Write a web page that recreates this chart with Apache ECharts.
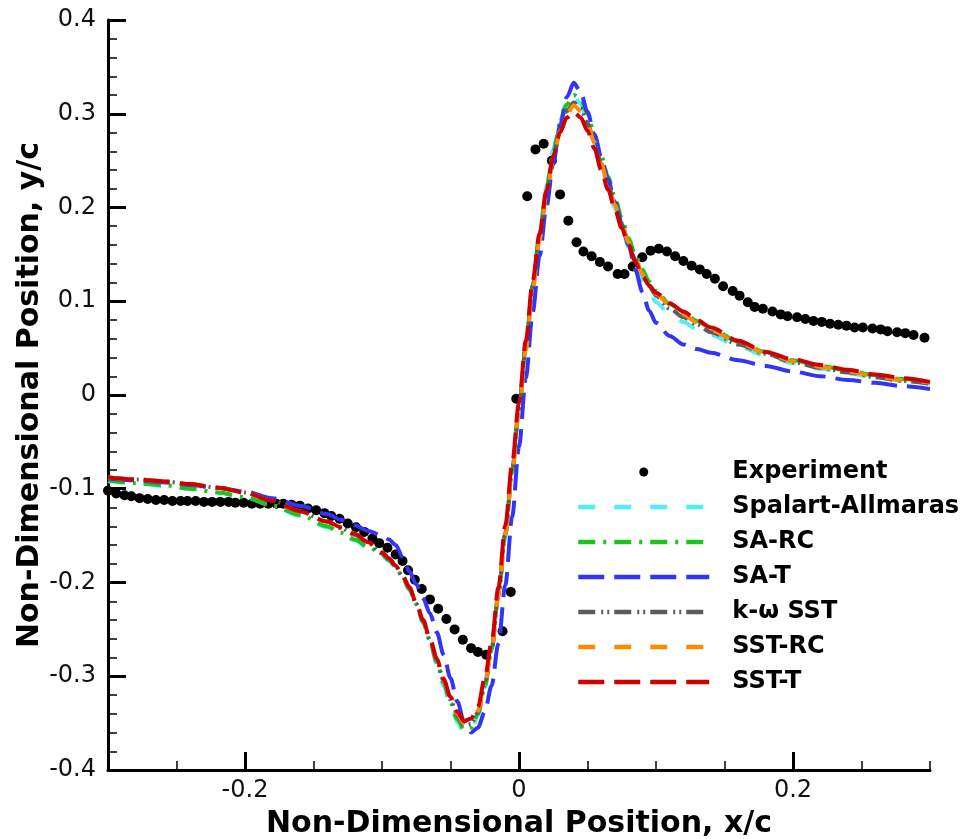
<!DOCTYPE html>
<html>
<head>
<meta charset="utf-8">
<script src="https://cdn.jsdelivr.net/npm/echarts@6/dist/echarts.min.js"></script>
<style>
  html, body { margin: 0; padding: 0; background: #fff; }
  #chart { width: 964px; height: 839px; }
</style>
</head>
<body>
<div id="chart"></div>
<script>
// ---------- data ----------
const seriesNames = ['Experiment', 'Spalart-Allmaras', 'SA-RC', 'SA-T', 'k-ω SST', 'SST-RC', 'SST-T'];

const expX = [-0.300,-0.294,-0.288,-0.283,-0.277,-0.271,-0.265,-0.259,-0.253,-0.247,-0.242,-0.236,-0.230,-0.224,-0.218,-0.212,-0.207,-0.201,-0.195,-0.189,-0.183,-0.177,-0.172,-0.166,-0.160,-0.154,-0.148,-0.142,-0.137,-0.131,-0.125,-0.119,-0.113,-0.107,-0.102,-0.096,-0.090,-0.085,-0.081,-0.076,-0.071,-0.065,-0.059,-0.053,-0.047,-0.041,-0.035,-0.030,-0.024,-0.012,-0.006,-0.002,0.006,0.012,0.018,0.024,0.030,0.036,0.042,0.047,0.053,0.059,0.065,0.072,0.077,0.083,0.090,0.096,0.102,0.108,0.114,0.120,0.126,0.132,0.137,0.143,0.149,0.156,0.161,0.167,0.172,0.178,0.185,0.191,0.196,0.203,0.209,0.215,0.221,0.227,0.233,0.239,0.245,0.251,0.258,0.264,0.269,0.276,0.282,0.288,0.296];
const expY = [-0.102,-0.105,-0.107,-0.108,-0.110,-0.111,-0.112,-0.112,-0.113,-0.113,-0.113,-0.113,-0.114,-0.114,-0.114,-0.114,-0.115,-0.115,-0.116,-0.116,-0.116,-0.116,-0.116,-0.117,-0.118,-0.121,-0.123,-0.126,-0.129,-0.132,-0.137,-0.141,-0.146,-0.153,-0.158,-0.163,-0.170,-0.177,-0.187,-0.197,-0.207,-0.218,-0.228,-0.239,-0.250,-0.261,-0.270,-0.274,-0.277,-0.252,-0.210,-0.004,0.212,0.262,0.268,0.250,0.214,0.186,0.163,0.153,0.148,0.142,0.137,0.129,0.129,0.137,0.147,0.154,0.156,0.153,0.148,0.143,0.138,0.134,0.129,0.124,0.116,0.111,0.106,0.099,0.094,0.092,0.089,0.086,0.084,0.083,0.081,0.079,0.078,0.076,0.075,0.074,0.072,0.072,0.071,0.070,0.068,0.067,0.066,0.064,0.061];

const xGrid = [-0.3,-0.28,-0.26,-0.24,-0.22,-0.2,-0.18,-0.16,-0.14,-0.13,-0.12,-0.11,-0.1,-0.095,-0.09,-0.085,-0.08,-0.075,-0.07,-0.065,-0.06,-0.055,-0.05,-0.045,-0.04,-0.035,-0.03,-0.025,-0.02,-0.015,-0.01,-0.005,0,0.005,0.01,0.015,0.02,0.025,0.03,0.035,0.04,0.045,0.05,0.055,0.06,0.065,0.07,0.075,0.08,0.085,0.09,0.095,0.1,0.11,0.12,0.13,0.14,0.16,0.18,0.2,0.22,0.24,0.26,0.28,0.3];

const ySA = [-0.092,-0.094,-0.097,-0.100,-0.104,-0.109,-0.118,-0.129,-0.141,-0.148,-0.155,-0.163,-0.171,-0.177,-0.184,-0.195,-0.208,-0.224,-0.243,-0.264,-0.287,-0.310,-0.331,-0.349,-0.360,-0.358,-0.342,-0.312,-0.272,-0.214,-0.150,-0.083,-0.016,0.052,0.117,0.172,0.222,0.262,0.293,0.314,0.320,0.310,0.292,0.270,0.246,0.222,0.199,0.178,0.158,0.139,0.122,0.109,0.099,0.086,0.078,0.070,0.064,0.052,0.042,0.034,0.028,0.023,0.019,0.015,0.012];
const ySARC = [-0.091,-0.094,-0.096,-0.100,-0.104,-0.109,-0.118,-0.128,-0.140,-0.147,-0.154,-0.162,-0.170,-0.176,-0.183,-0.194,-0.207,-0.223,-0.242,-0.262,-0.285,-0.307,-0.328,-0.346,-0.357,-0.355,-0.340,-0.311,-0.271,-0.213,-0.149,-0.082,-0.015,0.053,0.117,0.171,0.220,0.260,0.290,0.310,0.320,0.316,0.300,0.278,0.255,0.233,0.211,0.189,0.167,0.149,0.134,0.121,0.111,0.097,0.088,0.079,0.071,0.057,0.046,0.037,0.031,0.026,0.021,0.017,0.014];
const ySAT = [-0.089,-0.091,-0.093,-0.096,-0.099,-0.103,-0.110,-0.118,-0.127,-0.133,-0.139,-0.145,-0.150,-0.154,-0.160,-0.173,-0.188,-0.202,-0.217,-0.233,-0.253,-0.277,-0.302,-0.327,-0.349,-0.360,-0.355,-0.338,-0.310,-0.265,-0.203,-0.130,-0.055,0.018,0.088,0.148,0.200,0.247,0.288,0.318,0.333,0.323,0.302,0.278,0.254,0.230,0.206,0.183,0.160,0.133,0.110,0.090,0.077,0.063,0.054,0.049,0.045,0.037,0.031,0.025,0.020,0.016,0.013,0.0095,0.0063];
const ySST = [-0.088,-0.090,-0.092,-0.095,-0.099,-0.104,-0.113,-0.124,-0.135,-0.142,-0.149,-0.158,-0.169,-0.175,-0.183,-0.194,-0.206,-0.223,-0.241,-0.261,-0.283,-0.305,-0.325,-0.342,-0.353,-0.351,-0.339,-0.309,-0.272,-0.213,-0.147,-0.080,-0.014,0.052,0.116,0.168,0.215,0.254,0.283,0.303,0.312,0.306,0.290,0.270,0.247,0.225,0.203,0.182,0.162,0.144,0.128,0.116,0.106,0.092,0.083,0.075,0.067,0.054,0.044,0.035,0.029,0.024,0.019,0.015,0.012];
const ySSTRC = [-0.088,-0.090,-0.092,-0.095,-0.099,-0.104,-0.113,-0.124,-0.135,-0.141,-0.148,-0.157,-0.168,-0.174,-0.182,-0.193,-0.205,-0.222,-0.240,-0.260,-0.282,-0.304,-0.324,-0.340,-0.351,-0.349,-0.337,-0.308,-0.272,-0.214,-0.149,-0.083,-0.018,0.048,0.112,0.165,0.213,0.252,0.281,0.300,0.309,0.303,0.289,0.270,0.247,0.225,0.203,0.182,0.163,0.145,0.129,0.117,0.108,0.096,0.086,0.077,0.069,0.056,0.045,0.036,0.030,0.025,0.020,0.016,0.013];
const ySSTT = [-0.088,-0.090,-0.092,-0.095,-0.099,-0.104,-0.113,-0.124,-0.135,-0.141,-0.148,-0.157,-0.168,-0.174,-0.182,-0.193,-0.205,-0.222,-0.240,-0.260,-0.281,-0.303,-0.322,-0.338,-0.348,-0.345,-0.333,-0.302,-0.264,-0.205,-0.139,-0.073,-0.008,0.058,0.122,0.172,0.218,0.255,0.280,0.296,0.302,0.296,0.282,0.263,0.240,0.219,0.198,0.178,0.160,0.142,0.127,0.117,0.109,0.098,0.089,0.080,0.072,0.058,0.046,0.038,0.032,0.027,0.022,0.018,0.014];

const yTickValues = [-0.4,-0.3,-0.2,-0.1,0,0.1,0.2,0.3,0.4];
const yTickLabels = ['-0.4','-0.3','-0.2','-0.1','0','0.1','0.2','0.3','0.4'];
const xMajorTicks = [-0.2, 0, 0.2];
const xTickLabels = ['-0.2', '0', '0.2'];

// ---------- styles ----------
const FONT = 'DejaVu Sans';
const colors = ['#000000', '#50eefc', '#1ec31e', '#3434f4', '#5c5c5c', '#ff8a00', '#d00000'];
const dashes = [null, [17,19], [17,8,3,8], [26,10], [17,6,2,4,2,5], [17,19], [26,10]];
const curveY = [null, ySA, ySARC, ySAT, ySST, ySSTRC, ySSTT];

const series = [{
  name: seriesNames[0],
  type: 'scatter',
  symbol: 'circle',
  symbolSize: 10,
  itemStyle: { color: colors[0], opacity: 1 },
  data: expX.map((x, i) => [x, expY[i]]),
  z: 2
}];
for (let k = 1; k < seriesNames.length; k++) {
  series.push({
    name: seriesNames[k],
    type: 'line',
    symbol: 'none',
    smooth: 0.3,
    smoothMonotone: 'x',
    color: colors[k],
    itemStyle: { color: colors[k] },
    lineStyle: { color: colors[k], width: 4, type: dashes[k], cap: 'butt' },
    data: xGrid.map((x, i) => [x, curveY[k][i]]),
    z: 3
  });
}

const chart = echarts.init(document.getElementById('chart'), null, { renderer: 'canvas' });
chart.setOption({
  animation: false,
  backgroundColor: '#ffffff',
  grid: { left: 108, right: 34, top: 20, bottom: 69, containLabel: false, outerBoundsMode: 'none' },
  xAxis: [{
    type: 'value', min: -0.3, max: 0.3, interval: 0.05, position: 'bottom',
    axisLine: { show: true, onZero: false, lineStyle: { color: '#000', width: 3 } },
    axisTick: { show: true, inside: true, length: 9, lineStyle: { color: '#000', width: 1.5 } },
    axisLabel: { show: false },
    splitLine: { show: false },
    name: 'Non-Dimensional Position, x/c', nameLocation: 'middle', nameGap: 39,
    nameTextStyle: { fontFamily: FONT, fontWeight: 'bold', fontSize: 30, color: '#000' }
  }, {
    type: 'value', min: -0.3, max: 0.3, position: 'bottom', offset: 0,
    axisLine: { show: false, onZero: false },
    axisTick: { show: true, inside: true, length: 18, customValues: xMajorTicks, lineStyle: { color: '#000', width: 3 } },
    axisLabel: {
      show: true, customValues: xMajorTicks, margin: 9,
      fontFamily: FONT, fontSize: 24, color: '#111',
      formatter: (v) => xTickLabels[xMajorTicks.findIndex(t => Math.abs(t - v) < 1e-9)]
    },
    splitLine: { show: false }
  }],
  yAxis: {
    type: 'value', min: -0.4, max: 0.4, interval: 0.1,
    axisLine: { show: true, onZero: false, lineStyle: { color: '#000', width: 3 } },
    axisTick: { show: true, inside: true, length: 18, lineStyle: { color: '#000', width: 3 } },
    minorTick: { show: true, splitNumber: 5, length: 9, lineStyle: { color: '#000', width: 1.5 } },
    splitLine: { show: false },
    minorSplitLine: { show: false },
    axisLabel: {
      margin: 12, fontFamily: FONT, fontSize: 24, color: '#111',
      formatter: (v) => yTickLabels[yTickValues.findIndex(t => Math.abs(t - v) < 1e-9)]
    },
    name: 'Non-Dimensional Position, y/c', nameLocation: 'middle', nameGap: 63,
    nameMoveOverlap: false,
    nameTextStyle: { fontFamily: FONT, fontWeight: 'bold', fontSize: 30, color: '#000' }
  },
  legend: {
    orient: 'vertical', left: 576, top: 458, padding: 0,
    itemWidth: 131, itemHeight: 9, itemGap: 7,
    selectedMode: false,
    textStyle: { fontFamily: FONT, fontWeight: 'bold', fontSize: 24, color: '#000', lineHeight: 28, padding: [0, 0, 0, 18] },
    lineStyle: { width: 4.5 },
    itemStyle: { opacity: 0 },
    data: seriesNames.map((n, i) => i === 0 ? { name: n, itemStyle: { opacity: 1 } } : { name: n })
  },
  series: series
});
</script>
</body>
</html>
